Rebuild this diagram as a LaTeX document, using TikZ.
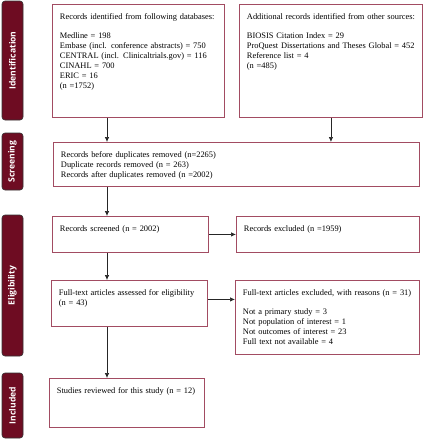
\documentclass[tikz,border=0pt]{standalone}
\usepackage{fontspec}
\setmainfont{Liberation Serif}
\newfontfamily\barfont{Open Sans}
\usetikzlibrary{arrows.meta}
\definecolor{phasered}{RGB}{110,12,34}
\definecolor{boxred}{RGB}{162,76,98}

\begin{document}
\begin{tikzpicture}[x=1pt,y=-1pt,
  phase/.style={draw=black!80, fill=phasered, rounded corners=3pt, line width=0.6pt,
      rotate=90, minimum height=21pt, text=white, font=\barfont\bfseries\fontsize{8.6}{10}\selectfont},
  rec/.style={draw=boxred, line width=0.9pt, anchor=north west, align=left,
      inner xsep=7.5pt, inner ysep=8pt, text height=7pt, font=\fontsize{8.4}{10}\selectfont},
  arr/.style={-{Latex[length=5pt,width=4.5pt]}, line width=0.7pt, black!85}]
\useasboundingbox (0,0) rectangle (423,440);

% phases
\node[phase, minimum width=119pt] (P1) at (12.5,60.5) {Identification};
\node[phase, minimum width=57pt] (P2) at (12.5,161.5) {Screening};
\node[phase, minimum width=141pt] (P3) at (12.5,285.5) {Eligibility};
\node[phase, minimum width=65pt] (P4) at (12.5,405.5) {Included};

% records
\node[rec, text width=157pt, text depth=90pt] (dbs) at (52,4)
  {Records identified from following databases:\\[9pt]
   Medline = 198\\ Embase (incl. conference abstracts) = 750\\
   CENTRAL (incl. Clinicaltrials.gov) = 116\\ CINAHL = 700\\ ERIC = 16\\ (n =1752)};
\node[rec, text width=168pt, text depth=90pt] (oth) at (239,4)
  {Additional records identified from other sources:\\[9pt]
   BIOSIS Citation Index = 29\\ ProQuest Dissertations and Theses Global = 452\\
   Reference list = 4\\ (n =485)};

\node[rec, text width=351pt, text depth=21pt] (dup) at (53,142)
  {Records before duplicates removed (n=2265)\\ Duplicate records removed (n = 263)\\
   Records after duplicates removed (n =2002)};

\node[rec, text width=141pt, text depth=13pt] (scr) at (52,216) {Records screened (n = 2002)};
\node[rec, text width=168pt, text depth=13pt] (exc) at (236,216) {Records excluded (n =1959)};

\node[rec, text width=141pt, text depth=23pt] (ft) at (51,280)
  {Full-text articles assessed for eligibility\\ (n = 43)};
\node[rec, text width=169pt, text depth=51pt] (ftx) at (235,280)
  {Full-text articles excluded, with reasons (n = 31)\\[9pt]
   Not a primary study = 3\\ Not population of interest = 1\\
   Not outcomes of interest = 23\\ Full text not available = 4};

\node[rec, text width=140pt, text depth=26pt] (inc) at (49,378) {Studies reviewed for this study (n = 12)};

\coordinate (lane) at (107,0);
\draw[arr] (dbs.south -| lane) -- (dup.north -| lane);
\draw[arr] (oth.south) -- (oth.south |- dup.north);
\draw[arr] (dup.south -| lane) -- (scr.north -| lane);
\draw[arr] (scr.east) -- (scr.east -| exc.west);
\draw[arr] (scr.south -| lane) -- (ft.north -| lane);
\draw[arr] ([yshift=4pt]ft.east) -- ([yshift=4pt]ft.east -| ftx.west);
\draw[arr] (ft.south -| lane) -- (inc.north -| lane);
\end{tikzpicture}
\end{document}
